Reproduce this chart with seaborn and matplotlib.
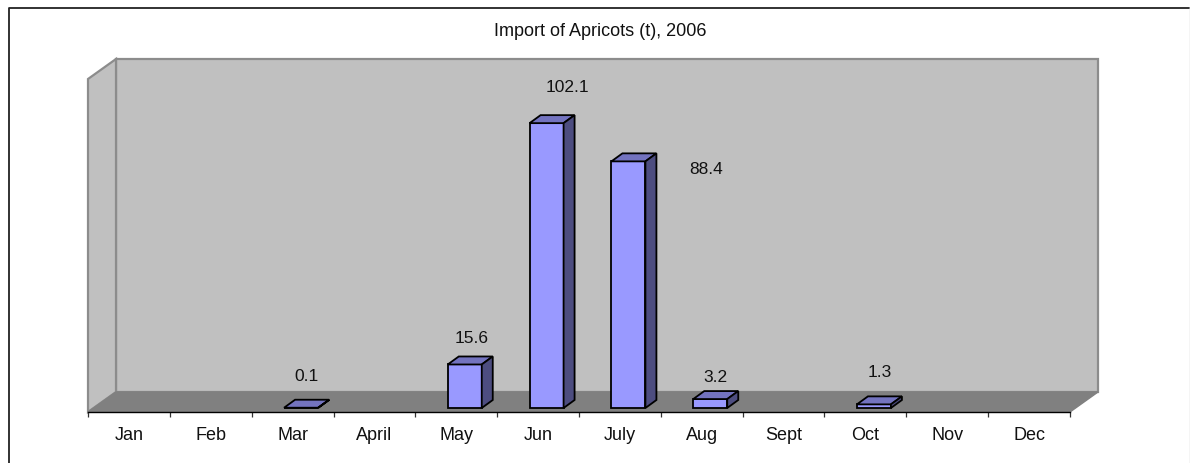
import matplotlib
matplotlib.use("Agg")
import matplotlib.pyplot as plt
import seaborn as sns
import pandas as pd
from matplotlib.patches import Polygon
from matplotlib.lines import Line2D
from matplotlib.transforms import Affine2D, IdentityTransform

months = ["Jan", "Feb", "Mar", "April", "May", "Jun", "July", "Aug", "Sept", "Oct", "Nov", "Dec"]
imports = [None, None, 0.1, None, 15.6, 102.1, 88.4, 3.2, None, 1.3, None, None]
title = "Import of Apricots (t), 2006"

# placement of the hand-moved value labels (pixels from each bar's top centre)
label_shift = {"Mar": (5, 31), "May": (7, 26), "Jun": (21, 36), "July": (78, -8), "Aug": (5, 22), "Oct": (6, 32)}

W, H = 1190, 463
sns.set_theme(style="white")
plt.rcParams["font.family"] = ["Liberation Sans", "DejaVu Sans"]
fig = plt.figure(figsize=(W / 100, H / 100), dpi=100, facecolor="white")

L, R, T, B = 88, 1070, 59, 412       # front plane of the 3D box (px from top-left)
DX, DY = 28, 20                      # box depth
BAR_DX, BAR_DY = 8.5, 4              # bars stand in the middle of the floor
BAR_D = (11, 8)                      # bar depth
ax = fig.add_axes([L / W, (H - B) / H, (R - L) / W, (B - T) / H])
ax.patch.set_visible(False)

df = pd.DataFrame({"month": months, "imports": pd.to_numeric(pd.Series(imports), errors="coerce")})
sns.barplot(data=df, x="month", y="imports", order=months, color="#9999FF", saturation=1,
            width=34 / ((R - L) / 12), edgecolor="black", linewidth=1.3, ax=ax, zorder=5)
bars = list(ax.patches)
ax.set_xlim(-0.5, 11.5)
ax.set_ylim(0, (B - T) / 2.79)
ax.set_yticks([])
ax.set_xlabel("")
ax.set_ylabel("")
for s in ["top", "left", "right"]:
    ax.spines[s].set_visible(False)
ax.spines["bottom"].set_color("black")
ax.spines["bottom"].set_linewidth(1.0)
ax.set_xticks(range(12), months)
ax.set_xticks([i - 0.5 for i in range(13)], minor=True)
ax.tick_params(axis="x", which="major", length=0, pad=10.5, labelsize=13, colors="#111111")
ax.tick_params(axis="x", which="minor", length=3.6, width=0.9, color="#333333", bottom=True)


def px(x, y):
    return (x, H - y)


def poly(points, face, edge, lw=1.3, z=1):
    ax.add_artist(Polygon([px(*p) for p in points], closed=True, facecolor=face, edgecolor=edge,
                          linewidth=lw, transform=IdentityTransform(), clip_on=False, zorder=z))


# walls and floor
poly([(L + DX, T), (R + DX, T), (R + DX, B - DY), (L + DX, B - DY)], "#C0C0C0", "#8C8C8C", 1.6)
poly([(L, T + DY), (L + DX, T), (L + DX, B - DY), (L, B)], "#C0C0C0", "#8C8C8C", 1.6)
poly([(L, B), (L + DX, B - DY), (R + DX, B - DY), (R, B)], "#808080", "#808080", 1.0, 1.5)

# bars: shift the fronts and add top and side faces
shift = Affine2D().translate(BAR_DX, BAR_DY)
for bar in bars:
    h = bar.get_height()
    if not h == h or h == 0:
        continue
    xc = bar.get_x() + bar.get_width() / 2
    (x0, y0), (x1, y1) = ax.transData.transform([(bar.get_x(), 0), (bar.get_x() + bar.get_width(), h)])
    x0, x1, y0, y1 = x0 + BAR_DX, x1 + BAR_DX, y0 + BAR_DY, y1 + BAR_DY
    bar.set_transform(ax.transData + shift)
    bar.set_clip_on(False)
    dx, dy = BAR_D
    for pts, col in [([(x0, y1), (x1, y1), (x1 + dx, y1 + dy), (x0 + dx, y1 + dy)], "#7373BF"),
                     ([(x1, y0), (x1 + dx, y0 + dy), (x1 + dx, y1 + dy), (x1, y1)], "#4D4D80")]:
        ax.add_artist(Polygon(pts, closed=True, facecolor=col, edgecolor="black", linewidth=1.3,
                              transform=IdentityTransform(), clip_on=False, zorder=5))
    name = months[int(round(xc))]
    sx, sy = label_shift[name]
    ax.annotate(f"{h:g}", xy=(xc, h), xytext=(BAR_DX + sx, BAR_DY + sy), textcoords="offset pixels",
                ha="center", va="center", fontsize=12.5, color="#111111", zorder=6, annotation_clip=False)

fig.text(600 / W, (H - 32) / H, title, ha="center", va="center", fontsize=13, color="#111111")

# chart frame, cut off by the image at the bottom
fig.add_artist(Line2D([9 / W, 9 / W, 1189 / W], [0, (H - 8) / H, (H - 8) / H], color="#222222", linewidth=1.3))
fig.add_artist(Line2D([1189.5 / W, 1189.5 / W], [0, (H - 8) / H], color="#D0D0D0", linewidth=1.0))

fig.savefig("out.png", dpi=100)
